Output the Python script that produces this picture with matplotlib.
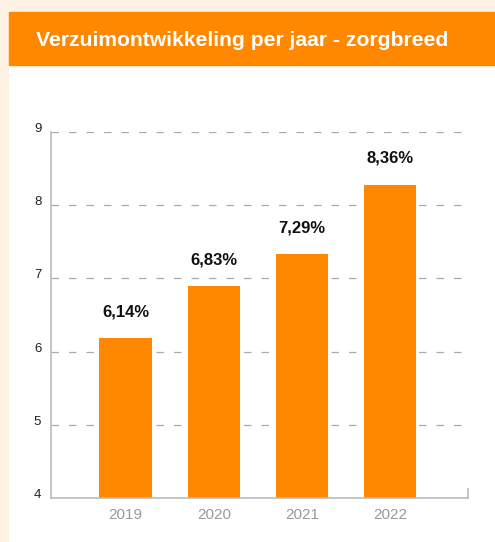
import matplotlib.pyplot as plt
from matplotlib.patches import Rectangle

years = ['2019', '2020', '2021', '2022']
bar_heights = [6.18, 6.89, 7.33, 8.28]
label_values = [6.14, 6.83, 7.29, 8.36]
yticks = [4, 5, 6, 7, 8, 9]
title = 'Verzuimontwikkeling per jaar - zorgbreed'

orange = '#FF8800'
cream = '#FEF1E3'
W, H = 495, 542

plt.rcParams['font.family'] = ['Liberation Sans', 'DejaVu Sans']

fig = plt.figure(figsize=(W / 100, H / 100), dpi=100, facecolor=cream)

# white panel and orange header band
fig.patches.append(Rectangle((9 / W, 0), 1 - 9 / W, (H - 65) / H,
                             transform=fig.transFigure, color='white', zorder=-2))
fig.patches.append(Rectangle((9 / W, (H - 65) / H), 1 - 9 / W, 53 / H,
                             transform=fig.transFigure, color=orange, zorder=-2))
fig.text(36 / W, (H - 41) / H, title, color='white', fontsize=15.2,
         fontweight='bold', va='center', ha='left')

ax = fig.add_axes([51 / W, (H - 498) / H, (468 - 51) / W, (498 - 132) / H])
ax.set_facecolor('none')
ax.set_zorder(3)

x = list(range(len(years)))
ax.bar(x, bar_heights, width=0.59, color=orange, zorder=2)
for xi, h, v in zip(x, bar_heights, label_values):
    ax.annotate(('%.2f%%' % v).replace('.', ','), (xi, h), xytext=(0, 19),
                textcoords='offset points', ha='center', va='center',
                fontsize=12, fontweight='bold', color='#111111')

ax.set_ylim(4, 9)
ax.set_xlim(-0.844, 3.88)
ax.set_yticks(yticks)
ax.set_xticks(x)
ax.set_xticklabels(years)
for yv in yticks[1:]:
    ax.axhline(yv, xmin=0, xmax=0.993, color='#AAAAAA', lw=0.9,
               linestyle=(0, (6, 8)), zorder=1)

ax.tick_params(axis='y', length=0, pad=7, labelsize=9.5, labelcolor='#222222')
ax.tick_params(axis='x', length=0, pad=7, labelsize=11, labelcolor='#999999')
for lab in ax.get_yticklabels():
    lab.set_va('baseline')
ax.spines['top'].set_visible(False)
ax.spines['right'].set_bounds(4, 4.12)
for s in ['left', 'bottom', 'right']:
    ax.spines[s].set_color('#BBBBBB')
    ax.spines[s].set_linewidth(1.2)

fig.savefig('out.png', dpi=100, facecolor=cream)
